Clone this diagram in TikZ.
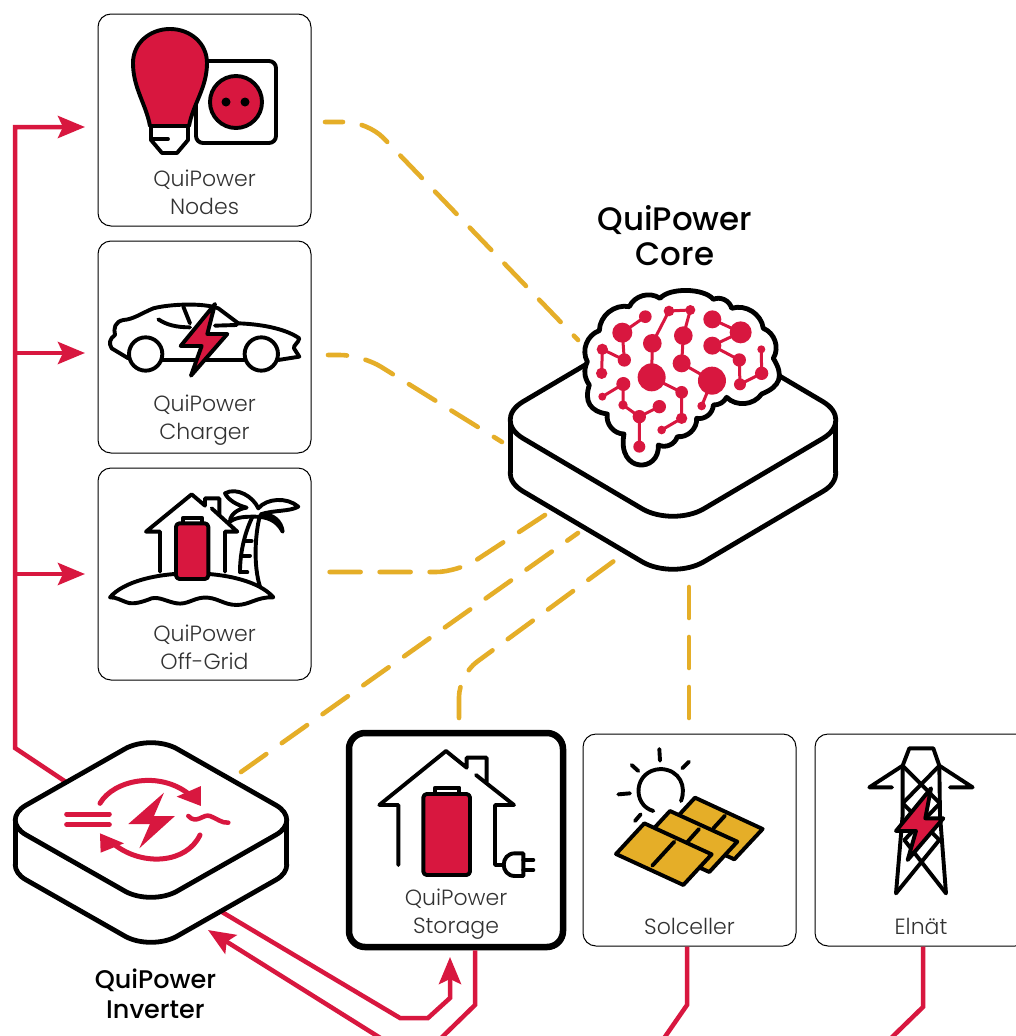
\documentclass[tikz,border=0pt]{standalone}
\usepackage{fontspec}
\setmainfont{Poppins}
\newfontfamily\quilight{Poppins Light}
\newfontfamily\quisemi{Poppins Medium}
\usetikzlibrary{arrows.meta}
\definecolor{quired}{RGB}{216,23,63}
\definecolor{quigold}{RGB}{229,174,40}
\definecolor{quitext}{RGB}{50,50,50}
\tikzset{
  qbox/.style={rectangle, draw=black, fill=white, line width=1pt, rounded corners=13pt, minimum width=213pt, minimum height=212pt, inner sep=0pt},
  qlabel/.style={align=center, text=quitext, inner sep=0pt, font=\quilight\fontsize{22}{28}\selectfont},
  qtitle/.style={align=center, text=black, inner sep=0pt},
  goldline/.style={draw=quigold, line width=4.6pt, line cap=round, dash pattern=on 31pt off 19pt, rounded corners=22pt},
  redline/.style={draw=quired, line width=4.5pt, line join=miter},
  redarrow/.style={redline, -{Stealth[length=27pt,width=22pt,inset=5pt]}},
  iconline/.style={draw=black, line width=3.9pt, line join=round, line cap=round},
  devline/.style={draw=black, line width=4.8pt, line join=round, fill=white},
  lobe/.style={bend left=50}
}
\newcommand{\isodevice}[6]{%
  \pgfmathsetmacro{\sidex}{#3-0.5075*#6}
  \fill[white] (#1-\sidex,#2) rectangle (#1+\sidex,#2+#5);
  \draw[devline, rounded corners=#6pt] (#1-#3/2,#2+#5-#4/2) -- (#1,#2+#5-#4) -- (#1+#3,#2+#5) -- (#1,#2+#5+#4) -- (#1-#3,#2+#5) -- cycle;
  \fill[white] (#1-\sidex,#2) rectangle (#1+\sidex,#2+#5);
  \draw[devline] (#1-\sidex,#2) -- (#1-\sidex,#2+#5);
  \draw[devline] (#1+\sidex,#2) -- (#1+\sidex,#2+#5);
  \draw[devline, rounded corners=#6pt] (#1-#3/2,#2-#4/2) -- (#1,#2-#4) -- (#1+#3,#2) -- (#1,#2+#4) -- (#1-#3,#2) -- cycle;
}
\begin{document}
\begin{tikzpicture}[x=1pt,y=-1pt]
  \clip (0,0) rectangle (1016,1036);
  \fill[white] (0,0) rectangle (1016,1036);

  % boxes
  \node[qbox] (nodes) at (204.5,120) {};
  \node[qbox] (charger) at (204.5,347) {};
  \node[qbox] (offgrid) at (204.5,574) {};
  \node[qbox, line width=6.5pt, rounded corners=16pt, minimum width=214pt, minimum height=214pt] (storage) at (456,840) {};
  \node[qbox] (solar) at (689.5,840) {};
  \node[qbox] (grid) at (921.5,840) {};

  \node[qlabel] (nodestext) at (204.5,192.5) {QuiPower\\Nodes};
  \node[qlabel] (chargertext) at (204.5,420.5) {QuiPower\\Charger};
  \node[qlabel] (offgridtext) at (204.5,647) {QuiPower\\Off-Grid};
  \node[qlabel] (storagetext) at (456,914.5) {QuiPower\\Storage};
  \node[qlabel] (solartext) at (689.5,926.5) {Solceller};
  \node[qlabel] (gridtext) at (921,926.5) {Elnät};
  \node[qtitle, font=\quisemi\fontsize{32.5}{35}\selectfont] (coretext) at (675,236) {QuiPower\\Core};
  \node[qtitle, font=\quisemi\fontsize{25.5}{30}\selectfont] (invertertext) at (155.5,994) {QuiPower\\Inverter};

  % free ends of the connectors
  \coordinate (core) at (673,420);
  \coordinate (inverter) at (151,820);
  \coordinate (nodesout) at (325,122);
  \coordinate (chargerout) at (328,355);
  \coordinate (offgridout) at (326,572);
  \coordinate (invout) at (241,772);
  \coordinate (storageout) at (459,718);
  \coordinate (solarout) at (689,718);
  \coordinate (coreA) at (578,340);
  \coordinate (coreB) at (502,442);
  \coordinate (coreC) at (545,515);
  \coordinate (coreD) at (578,533);
  \coordinate (coreE) at (618,558);
  \coordinate (coreF) at (689,580);
  \coordinate (nodesin) at (85,127);
  \coordinate (chargerin) at (85,353);
  \coordinate (offgridin) at (85,574);
  \coordinate (trunk) at (15,748);
  \coordinate (trunkA) at (15,353);
  \coordinate (trunkB) at (15,574);

  % gold lines
  \draw[goldline, dash phase=13pt] (nodesout) -- (368,122) -- (coreA);
  \draw[goldline, dash phase=12pt] (chargerout) -- (362,355) -- (coreB);
  \draw[goldline] (coreC) -- (458,572) -- (offgridout);
  \draw[goldline] (invout) -- (coreD);
  \draw[goldline] (storageout) -- (459,675) -- (coreE);
  \draw[goldline] (solarout) -- (coreF);

  % red lines
  \draw[redarrow] (66,782) -- (trunk) -- (15,127) -- (nodesin);
  \draw[redarrow] (trunkA) -- (chargerin);
  \draw[redarrow] (trunkB) -- (offgridin);
  \draw[redarrow] (222,912) -- (400,1018) -- (428,1018) -- (450,998) -- (450,957);
  \draw[redarrow] (390,1044) -- (208,930);
  \draw[redline] ([xshift=19pt]storage.south) -- (475,1005) -- (435,1044);
  \draw[redline] ([xshift=-2.5pt]solar.south) -- (687,1005) -- (660,1044);
  \draw[redline] ([xshift=1.5pt]grid.south) -- (923,1007) -- (885,1044);

  % devices
  \isodevice{673}{420}{181}{107}{53}{36}
  \isodevice{151}{820}{151}{86}{45}{30}

  % brain
  \begin{scope}[shift={(500,290)},scale=0.3333]
    \draw[draw=black, line width=4.8pt, fill=white, line join=round] (372,432) to[lobe] (322,372) to[lobe, looseness=1.3] (268,285) to[bend left=30] (262,215) to[lobe] (298,122) to[lobe] (388,50) to[lobe] (480,25) to[lobe, looseness=0.7] (640,28) to[lobe] (695,55) to[lobe] (790,115) to[lobe] (820,205) to[lobe, looseness=1.4] (785,312) to[lobe] (680,322) to[bend left=30] (640,345) to[lobe] (590,385) to[lobe] (532,440) to[lobe] (475,465) .. controls (480,550) and (350,550) .. (372,432) -- cycle;
    \draw[draw=quired, line width=3pt] (367,128) -- (436,80) (367,128) -- (373,210) -- (307,178) -- (305,250) (457,160) -- (507,63) -- (571,60) -- (550,137) -- (545,220) -- (636,272) -- (605,348) (457,160) -- (455,262) -- (545,307) -- (545,385) -- (485,420) (637,88) -- (722,127) -- (637,167) -- (718,210) -- (720,283) -- (785,250) -- (784,178) (307,320) -- (370,282) -- (369,345) -- (418,380) -- (478,350) (418,380) -- (418,470);
    \fill[quired] (455,262) circle (42) (636,272) circle (42) (722,127) circle (33) (367,128) circle (30) (457,160) circle (28) (550,137) circle (28) (545,220) circle (27) (637,88) circle (27) (637,167) circle (27) (373,210) circle (20) (436,80) circle (19) (307,178) circle (17) (305,250) circle (17) (370,282) circle (21) (307,320) circle (12) (369,345) circle (14) (418,380) circle (20) (478,350) circle (20) (418,470) circle (18) (545,307) circle (19) (545,385) circle (17) (485,420) circle (13) (605,348) circle (13) (507,63) circle (16) (571,60) circle (15) (718,210) circle (20) (784,178) circle (12) (785,250) circle (20) (720,283) circle (18);
  \end{scope}

  % inverter symbols
  \begin{scope}[shift={(0,730)},scale=0.3333]
    \draw[draw=quired, line width=5pt, line cap=round] (200,252) -- (328,252) (200,284) -- (328,284);
    \draw[draw=quired, line width=5pt, line cap=round] (300,220) .. controls (340,150) and (480,120) .. (570,195);
    \draw[draw=quired, line width=5pt, line cap=round] (600,315) .. controls (560,400) and (430,410) .. (345,345);
    \fill[quired] (603,168) -- (603,228) -- (530,200) -- cycle;
    \fill[quired] (300,310) -- (302,368) -- (372,340) -- cycle;
    \fill[quired] (492,188) -- (385,282) -- (450,282) -- (418,355) -- (525,258) -- (462,258) -- cycle;
    \draw[draw=quired, line width=4.5pt, line cap=round] (565,258) .. controls (590,285) and (610,250) .. (630,258) .. controls (650,265) and (665,280) .. (685,278);
  \end{scope}

  % bulb and socket
  \draw[iconline, fill=white, rounded corners=7pt] (196,61) rectangle (276,143);
  \draw[iconline, fill=quired] (236,102) circle (26);
  \fill[black] (226,102) circle (4.5) (245,102) circle (4.5);
  \draw[iconline, fill=white] (151,127) -- (151,140) -- (162,153) -- (177,153) -- (188,140) -- (188,127);
  \draw[iconline] (151,139) -- (168,139);
  \draw[iconline, fill=quired] (150,126) .. controls (146,104) and (133,88) .. (133,63) .. controls (133,43) and (150,29) .. (170,29) .. controls (190,29) and (207,43) .. (207,63) .. controls (207,88) and (193,104) .. (189,126) -- cycle;

  % car
  \begin{scope}[shift={(90,240)},scale=0.3333]
    \draw[iconline] (115,355) -- (65,325) .. controls (55,310) and (60,295) .. (75,285) .. controls (70,265) and (75,245) .. (100,240) .. controls (130,238) and (150,222) .. (190,205) .. controls (240,192) and (340,188) .. (385,205) -- (445,250) .. controls (500,252) and (580,262) .. (628,295) .. controls (625,310) and (610,315) .. (612,325) .. controls (615,335) and (625,340) .. (628,350) -- (565,360);
    \draw[iconline] (218,360) -- (462,360);
    \draw[iconline] (205,238) .. controls (230,255) and (260,262) .. (300,262);
    \draw[iconline] (375,257) -- (440,255);
    \draw[iconline] (280,200) -- (300,250);
    \draw[iconline] (167,342) circle (50) (514,342) circle (50);
    \draw[iconline, fill=quired] (375,192) -- (272,318) -- (335,318) -- (303,407) -- (412,282) -- (352,282) -- cycle;
  \end{scope}

  % island
  \begin{scope}[shift={(90,465)},scale=0.3333]
    \draw[iconline] (450,322) .. controls (450,260) and (465,200) .. (490,150);
    \draw[iconline] (510,365) .. controls (490,300) and (495,210) .. (510,150);
    \draw[iconline] (465,228) -- (485,228) (455,272) -- (480,272) (450,322) -- (472,322);
    \draw[iconline, fill=white] (405,85) .. controls (440,65) and (490,95) .. (505,130) .. controls (530,100) and (590,95) .. (625,125) .. controls (600,140) and (550,135) .. (512,148) .. controls (550,145) and (575,170) .. (578,200) .. controls (560,165) and (530,155) .. (495,155) .. controls (470,155) and (440,155) .. (420,170) .. controls (420,145) and (450,130) .. (470,128) .. controls (440,120) and (415,105) .. (405,85) -- cycle;
    \draw[iconline, fill=white] (60,397) .. controls (100,350) and (200,325) .. (305,325) .. controls (410,325) and (510,350) .. (550,397) .. controls (500,395) and (480,420) .. (440,420) .. controls (400,420) and (380,395) .. (340,398) .. controls (310,400) and (290,420) .. (260,415) .. controls (230,410) and (210,395) .. (185,400) .. controls (160,410) and (130,420) .. (110,412) .. controls (90,405) and (80,397) .. (60,397) -- cycle;
    \draw[iconline] (210,320) -- (210,200) -- (168,200) -- (305,88) -- (345,122) -- (345,100) -- (388,100) -- (388,148);
    \draw[iconline] (365,130) -- (442,200) -- (405,200) -- (405,320);
    \draw[iconline, fill=white] (280,175) -- (280,158) -- (335,158) -- (335,175);
    \draw[iconline, fill=quired, rounded corners=3.5pt] (258,175) rectangle (355,342);
  \end{scope}

  % house with plug
  \begin{scope}[shift={(340,725)},scale=0.3333]
    \draw[iconline] (175,420) -- (175,240) -- (118,240) -- (318,78) -- (380,128) -- (380,98) -- (440,98) -- (440,170);
    \draw[iconline] (408,150) -- (522,240) -- (465,240) -- (465,420) -- (490,420);
    \draw[iconline] (550,385) -- (525,385) .. controls (480,385) and (480,453) .. (525,453) -- (550,453) -- cycle;
    \draw[iconline] (550,405) -- (580,405) (550,435) -- (580,435);
    \draw[iconline, fill=white] (285,207) -- (285,188) -- (358,188) -- (358,207);
    \draw[iconline, fill=quired, rounded corners=3.5pt] (250,207) rectangle (390,450);
  \end{scope}

  % sun and panels
  \begin{scope}[shift={(575,725)},scale=0.3333]
    \draw[iconline] (235,258) .. controls (170,240) and (175,135) .. (258,132) .. controls (315,135) and (335,185) .. (318,228);
    \draw[iconline] (253,72) -- (255,107) (170,120) -- (190,138) (342,110) -- (322,130) (130,208) -- (165,205) (197,268) -- (180,288);
    \draw[iconline, fill=quigold] (360,218) -- (563,312) -- (478,403) -- (275,310) -- cycle;
    \draw[iconline] (450,272) -- (415,310);
    \draw[iconline, fill=quigold] (285,258) -- (487,350) -- (403,441) -- (200,350) -- cycle;
    \draw[iconline] (372,312) -- (338,350);
    \draw[iconline, fill=quigold] (208,295) -- (410,388) -- (325,480) -- (123,387) -- cycle;
    \draw[iconline] (298,350) -- (232,422);
  \end{scope}

  % pylon
  \begin{scope}[shift={(806,725)},scale=0.3333]
    \draw[iconline] (258,187) -- (190,187) -- (290,122) -- (310,70) -- (382,70) -- (400,122) -- (500,187) -- (432,187);
    \draw[iconline] (290,122) -- (290,270) -- (270,505);
    \draw[iconline] (400,122) -- (402,270) -- (420,505);
    \draw[iconline] (290,122) -- (402,235) (400,122) -- (290,235) (290,235) -- (400,345) -- (270,505) (402,235) -- (295,345) -- (420,505);
    \draw[iconline, fill=quired] (375,190) -- (270,318) -- (330,318) -- (305,405) -- (412,280) -- (358,280) -- cycle;
  \end{scope}
\end{tikzpicture}
\end{document}
